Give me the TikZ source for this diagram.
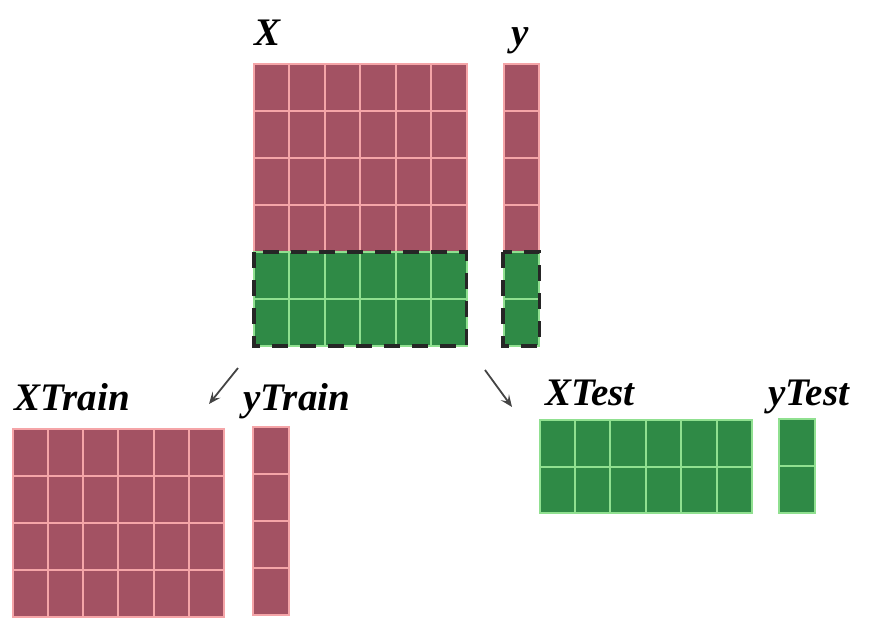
\documentclass[tikz,border=0pt]{standalone}
\usepackage{fontspec}
\setmainfont{Liberation Serif}
\usetikzlibrary{arrows.meta}
\definecolor{trainfill}{HTML}{A35263}
\definecolor{trainline}{HTML}{F5A5A8}
\definecolor{testfill}{HTML}{2F8A46}
\definecolor{testline}{HTML}{90E090}
\definecolor{arrowgray}{HTML}{444444}
\tikzset{
	traincell/.style={fill=trainfill,draw=trainline,line width=2pt},
	testcell/.style={fill=testfill,draw=testline,line width=2pt},
	splitbox/.style={draw=black!85,line width=3.5pt,dash pattern=on 16pt off 12pt},
	splitarrow/.style={draw=arrowgray,line width=1.8pt,-{Stealth[length=12pt,width=10pt,inset=5pt]}},
	matlabel/.style={anchor=base west,inner sep=0pt,font=\fontsize{39}{42}\selectfont\bfseries\itshape}
}
\begin{document}
\begin{tikzpicture}[x=1pt,y=-1pt]
	\useasboundingbox (0,0) rectangle (885,619);
	% full data X and y
	\foreach \i in {0,...,5} \foreach \j in {0,...,3}
		\draw[traincell] ({254+\i*35.45},{63.5+\j*47.1}) rectangle ++(35.45,47.1);
	\foreach \i in {0,...,5} \foreach \j in {4,5}
		\draw[testcell] ({254+\i*35.45},{63.5+\j*47.1}) rectangle ++(35.45,47.1);
	\foreach \j in {0,...,3}
		\draw[traincell] (503.5,{63.5+\j*47.1}) rectangle ++(35,47.1);
	\foreach \j in {4,5}
		\draw[testcell] (503.5,{63.5+\j*47.1}) rectangle ++(35,47.1);
	\draw[splitbox] (254,252) rectangle (466.5,346);
	\draw[splitbox] (503,252) rectangle (539.5,346);
	\node[matlabel] (lX) at (254,45) {X};
	\node[matlabel] (ly) at (511,45) {y};
	% split arrows
	\coordinate (trainFrom) at (238,368);
	\coordinate (trainTo) at (209,404);
	\coordinate (testFrom) at (485,370);
	\coordinate (testTo) at (512,407);
	\draw[splitarrow] (trainFrom) -- (trainTo);
	\draw[splitarrow] (testFrom) -- (testTo);
	% train part
	\foreach \i in {0,...,5} \foreach \j in {0,...,3}
		\draw[traincell] ({12.5+\i*35.3},{428.5+\j*47.1}) rectangle ++(35.3,47.1);
	\foreach \j in {0,...,3}
		\draw[traincell] (252.5,{427+\j*47}) rectangle ++(36,47);
	\node[matlabel] (lXTrain) at (14,410) {XTrain};
	\node[matlabel] (lyTrain) at (243,410) {yTrain};
	% test part
	\foreach \i in {0,...,5} \foreach \j in {0,1}
		\draw[testcell] ({539.5+\i*35.4},{420+\j*46.7}) rectangle ++(35.4,46.7);
	\foreach \j in {0,1}
		\draw[testcell] (778.5,{418.5+\j*47}) rectangle ++(36.5,47);
	\node[matlabel] (lXTest) at (545,405) {XTest};
	\node[matlabel] (lyTest) at (768,405) {yTest};
\end{tikzpicture}
\end{document}
